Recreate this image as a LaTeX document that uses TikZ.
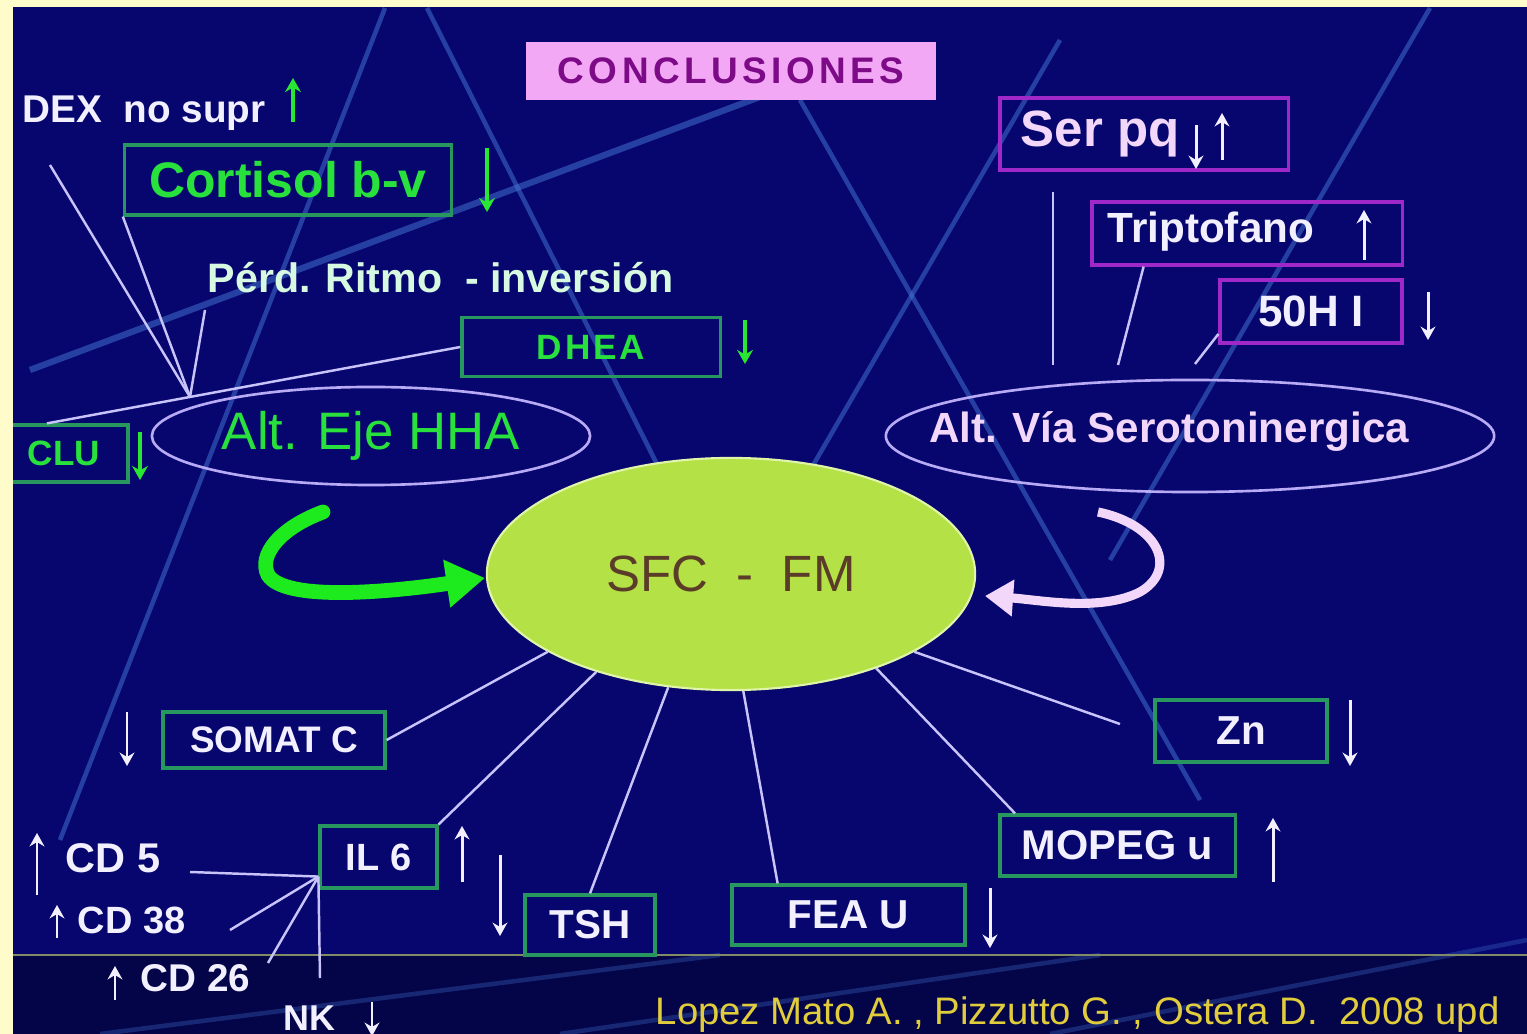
\documentclass[tikz,border=0pt]{standalone}
\usepackage{fontspec}
\setmainfont{Liberation Sans}
\usetikzlibrary{shapes.geometric,arrows.meta,calc}
\definecolor{bgc}{RGB}{6,6,110}
\definecolor{bgdarkc}{RGB}{4,4,72}
\definecolor{borderc}{RGB}{255,252,204}
\definecolor{streakc}{RGB}{70,120,215}
\definecolor{gboxc}{RGB}{40,150,95}
\definecolor{pboxc}{RGB}{160,40,200}
\definecolor{connc}{RGB}{200,195,250}
\definecolor{ellc}{RGB}{185,170,245}
\definecolor{gtextc}{RGB}{40,225,60}
\definecolor{garrc}{RGB}{40,230,50}
\definecolor{wtextc}{RGB}{242,240,255}
\definecolor{mintc}{RGB}{215,248,225}
\definecolor{sfcfillc}{RGB}{180,225,70}
\definecolor{sfclinec}{RGB}{225,245,170}
\definecolor{sfctextc}{RGB}{90,60,40}
\definecolor{titlefillc}{RGB}{242,168,245}
\definecolor{titletextc}{RGB}{125,10,135}
\definecolor{lavc}{RGB}{242,215,250}
\definecolor{citec}{RGB}{225,205,60}
\definecolor{hlinec}{RGB}{130,140,100}
\definecolor{bgreenc}{RGB}{30,235,30}
\newcommand\myfs[1]{\fontsize{#1}{#1}\selectfont}
\begin{document}
\begin{tikzpicture}[x=0.01cm,y=-0.01cm,
  gbox/.style={draw=gboxc, line width=0.9pt, inner sep=0pt},
  pbox/.style={draw=pboxc, line width=0.9pt, inner sep=0pt},
  conn/.style={draw=connc, line width=0.7pt},
  warr/.style={draw=wtextc, line width=0.85pt, -{Stealth[length=3.8pt,width=4.2pt]}},
  garr/.style={draw=garrc, line width=1.3pt, -{Stealth[length=4pt,width=4.5pt]}},
  streak/.style={draw=streakc, line width=1.3pt, opacity=0.5},
  ell/.style={ellipse, draw=ellc, line width=0.75pt, inner sep=0pt},
  wt/.style={text=wtextc, inner sep=0pt},
  gt/.style={text=gtextc, inner sep=0pt}]
\useasboundingbox (0,0) rectangle (1527,1034);
% background
\fill[bgc] (0,0) rectangle (1527,1034);
\fill[bgdarkc] (0,955) rectangle (1527,1034);
\draw[streak] (385,8) -- (60,840);
\draw[streak] (427,8) -- (665,480);
\draw[streak, line width=1.8pt] (30,370) -- (765,95);
\draw[streak] (800,100) -- (1200,800);
\draw[streak] (1060,40) -- (700,660);
\draw[streak] (1430,8) -- (1110,560);
\draw[streak, opacity=0.3] (100,1034) -- (720,955);
\draw[streak, opacity=0.3] (560,1034) -- (1100,955);
\draw[streak, opacity=0.3] (1050,1034) -- (1527,940);
\draw[hlinec, line width=0.7pt] (0,955) -- (1527,955);

% title
\node[fill=titlefillc, minimum width=4.09cm, minimum height=0.58cm, inner sep=0pt,
      text=titletextc, font=\bfseries\myfs{10.5pt}\addfontfeature{LetterSpace=12}] (title) at (731,71) {CONCLUSIONES};

% HHA cluster
\node[anchor=west, wt, font=\bfseries\myfs{11pt}] (dex) at (22,113) {DEX\ \ no supr};
\draw[garr] (293,122) -- (293,78);
\node[gbox, minimum width=3.27cm, minimum height=0.70cm, text=gtextc, font=\bfseries\myfs{14.2pt}] (cort) at (288,180) {Cortisol b-v};
\draw[garr] (487,148) -- (487,212);
\node[anchor=west, text=mintc, inner sep=0pt, font=\bfseries\myfs{11.7pt}] (perd) at (207,278) {Pérd. Ritmo\ \ - inversión};
\node[gbox, minimum width=2.58cm, minimum height=0.59cm, text=gtextc, font=\bfseries\myfs{10pt}\addfontfeature{LetterSpace=8}] (dhea) at (591,347) {DHEA};
\draw[garr] (745,320) -- (745,364);
\node[ell, minimum width=4.38cm, minimum height=0.98cm, text=gtextc, font=\myfs{15pt}] (hha) at (371,436) {Alt. Eje HHA};
\node[gbox, minimum width=1.28cm, minimum height=0.57cm, text=gtextc, font=\bfseries\myfs{10pt}] (clu) at (64,453.5) {CLU};
\draw[garr] (140,432) -- (140,480);

\coordinate (hc) at (190,397);
\coordinate (dexe) at (50,165);
\coordinate (perde) at (205,310);
\draw[conn] (dexe) -- (hc);
\draw[conn] (cort.south west) -- (hc);
\draw[conn] (perde) -- (hc);
\draw[conn] ($(clu.north west)!0.37!(clu.north east)$) -- (dhea.west);

% serotonin cluster
\node[pbox, minimum width=2.88cm, minimum height=0.72cm] (serpq) at (1144,134) {};
\node[anchor=west, text=lavc, inner sep=0pt, font=\bfseries\myfs{14.5pt}] (serpqt) at (1020,134) {Ser pq};
\draw[warr] (1196,125) -- (1196,169);
\draw[warr] (1222,160) -- (1222,113);
\node[pbox, minimum width=3.10cm, minimum height=0.63cm] (trip) at (1247,233.5) {};
\node[anchor=west, wt, font=\bfseries\myfs{12pt}] (tript) at (1107,232) {Triptofano};
\draw[warr] (1364,260) -- (1364,210);
\node[pbox, minimum width=1.82cm, minimum height=0.63cm, text=wtextc, font=\bfseries\myfs{12.5pt}] (ohi) at (1311,311.5) {50H I};
\draw[warr] (1428,292) -- (1428,340);

\coordinate (v1) at (1053,192);
\coordinate (v2) at (1053,365);
\draw[conn] (v1) -- (v2);
\coordinate (t2) at (1118,365);
\draw[conn] ($(trip.south west)!0.17!(trip.south east)$) -- (t2);
\coordinate (o2) at (1195,364);
\draw[conn] ($(ohi.south west)!0.16!(ohi.north west)$) -- (o2);

\node[ell, minimum width=6.08cm, minimum height=1.12cm] (via) at (1190,436) {};
\node[text=lavc, inner sep=0pt, font=\bfseries\myfs{12pt}] (viat) at (1169,432) {Alt. Vía Serotoninergica};

% centre
\node[ellipse, fill=sfcfillc, draw=sfclinec, line width=0.6pt, minimum width=4.88cm, minimum height=2.32cm,
      inner sep=0pt, text=sfctextc, font=\myfs{14.5pt}] (sfc) at (731,574) {SFC\ \ -\ \ FM};

% curved arrows
\draw[bgreenc, line width=4.2pt, line cap=round, -{Triangle[length=11pt,width=13pt]}]
  (323,512) .. controls (280,528) and (258,555) .. (268,575)
  .. controls (285,602) and (390,592) .. (485,578);
\draw[lavc, line width=2.6pt, -{Triangle[length=8pt,width=10pt]}]
  (1098,512) .. controls (1160,525) and (1178,570) .. (1140,592)
  .. controls (1100,612) and (1040,600) .. (985,596);

% bottom boxes
\node[gbox, minimum width=2.22cm, minimum height=0.56cm, text=wtextc, font=\bfseries\myfs{10.5pt}] (somat) at (274,740) {SOMAT C};
\draw[warr] (127,712) -- (127,766);
\node[gbox, minimum width=1.17cm, minimum height=0.62cm, text=wtextc, font=\bfseries\myfs{10.8pt}] (il6) at (378.5,857) {IL 6};
\draw[warr] (462,882) -- (462,826);
\node[gbox, minimum width=1.30cm, minimum height=0.60cm, text=wtextc, font=\bfseries\myfs{11.5pt}] (tsh) at (590,925) {TSH};
\draw[warr] (500,855) -- (500,936);
\node[gbox, minimum width=2.33cm, minimum height=0.60cm, text=wtextc, font=\bfseries\myfs{11.5pt}] (fea) at (848.5,915) {FEA U};
\draw[warr] (990,888) -- (990,948);
\node[gbox, minimum width=2.35cm, minimum height=0.61cm, text=wtextc, font=\bfseries\myfs{11.8pt}] (mopeg) at (1117.5,845.5) {MOPEG u};
\draw[warr] (1273,882) -- (1273,818);
\node[gbox, minimum width=1.72cm, minimum height=0.62cm, text=wtextc, font=\bfseries\myfs{11.5pt}] (zn) at (1241,731) {Zn};
\draw[warr] (1350,700) -- (1350,766);

\draw[conn] (somat.east) -- (sfc.203);
\draw[conn] (il6.north east) -- (sfc.216);
\draw[conn] (tsh.north) -- (sfc.241);
\draw[conn] ($(fea.north west)!0.2!(fea.north east)$) -- (sfc.276);
\draw[conn] ($(mopeg.north west)!0.07!(mopeg.north east)$) -- (sfc.327);
\coordinate (zne) at (1120,724);
\draw[conn] (sfc.337) -- (zne);

% IL6 cluster
\node[anchor=west, wt, font=\bfseries\myfs{11.8pt}] (cd5) at (65,858) {CD 5};
\draw[warr] (37,895) -- (37,833);
\node[anchor=west, wt, font=\bfseries\myfs{10.8pt}] (cd38) at (77,920) {CD 38};
\draw[warr] (57,938) -- (57,905);
\node[anchor=west, wt, font=\bfseries\myfs{11pt}] (cd26) at (140,978) {CD 26};
\draw[warr] (115,1000) -- (115,966);
\node[anchor=west, wt, font=\bfseries\myfs{10.2pt}] (nk) at (283,1018) {NK};
\draw[warr] (372,1002) -- (372,1036);

\coordinate (ilc) at ($(il6.south west)!0.2!(il6.north west)$);
\coordinate (cd5e) at (190,872);
\coordinate (cd38e) at (230,930);
\coordinate (cd26e) at (268,963);
\coordinate (nke) at (320,978);
\draw[conn] (cd5e) -- (ilc);
\draw[conn] (cd38e) -- (ilc);
\draw[conn] (cd26e) -- (ilc);
\draw[conn] (ilc) -- (nke);

% citation
\node[anchor=west, text=citec, inner sep=0pt, font=\myfs{10.9pt}] (cite) at (655,1015) {Lopez Mato A. , Pizzutto G. , Ostera D.\ \ 2008 upd};

% frame
\fill[borderc] (0,0) rectangle (13,1034);
\fill[borderc] (0,0) rectangle (1527,7);
\end{tikzpicture}
\end{document}
